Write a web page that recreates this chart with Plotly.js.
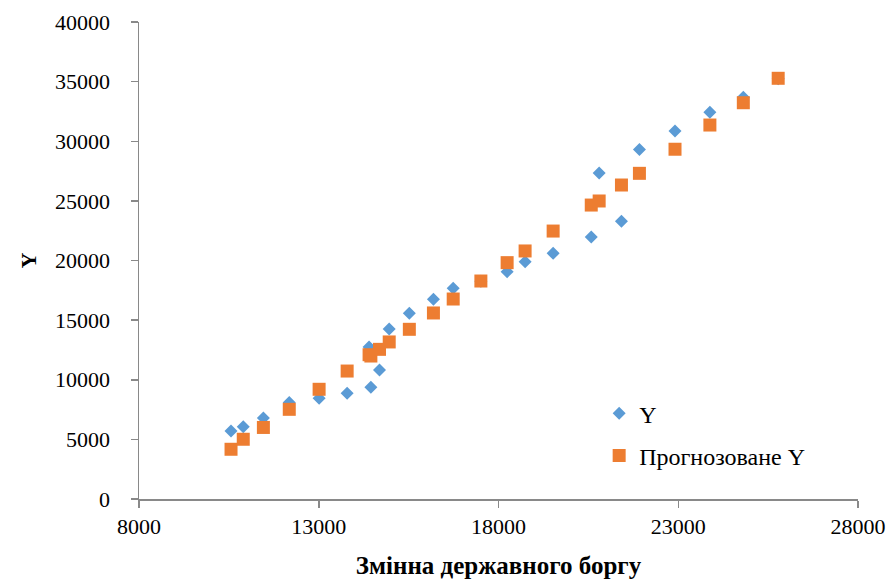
<!DOCTYPE html>
<html>
<head>
<meta charset="utf-8">
<script src="https://cdn.plot.ly/plotly-3.0.1.min.js"></script>
<style>html,body{margin:0;padding:0;background:#fff;}#chart{width:895px;height:585px;}</style>
</head>
<body>
<div id="chart"></div>
<script>
// Змінна державного боргу (x)
const debtX = [10560, 10900, 11460, 12180, 13010, 13790, 14400, 14450, 14690, 14960,
               15520, 16190, 16740, 17510, 18240, 18740, 19520, 20580, 20800, 21420,
               21920, 22910, 23880, 24810, 25780];
// Y (actual)
const actualY = [5700, 6060, 6800, 8100, 8450, 8860, 12750, 9370, 10820, 14250,
                 15570, 16750, 17670, 18250, 19060, 19900, 20600, 21970, 27340, 23290,
                 29310, 30860, 32430, 33700, 35250];
// Прогнозоване Y (predicted)
const predictedY = [4170, 5010, 6000, 7520, 9200, 10730, 12100, 11990, 12550, 13170,
                    14230, 15600, 16770, 18280, 19820, 20800, 22470, 24650, 24990, 26330,
                    27310, 29330, 31360, 33230, 35280];

const xTicks = [8000, 13000, 18000, 23000, 28000];
const yTicks = [0, 5000, 10000, 15000, 20000, 25000, 30000, 35000, 40000];

const serif = "'Liberation Serif', 'Times New Roman', serif";

const traces = [
  {
    x: debtX, y: actualY, name: 'Y', type: 'scatter', mode: 'markers',
    legendgroup: 'a',
    marker: {symbol: 'diamond', size: 10, color: '#5B9BD5'}
  },
  {
    x: debtX, y: predictedY, name: 'Прогнозоване Y', type: 'scatter', mode: 'markers',
    legendgroup: 'b',
    marker: {symbol: 'square', size: 13, color: '#ED7D31'}
  }
];

const axisCommon = {
  showgrid: false, zeroline: false, showline: true,
  linecolor: '#898989', linewidth: 1.5,
  ticks: 'outside', ticklen: 7, tickcolor: '#898989', tickwidth: 1.5,
  tickfont: {family: serif, size: 22, color: '#000'}
};

const layout = {
  width: 895, height: 585,
  margin: {l: 139, r: 37, t: 22, b: 86},
  paper_bgcolor: '#fff', plot_bgcolor: '#fff',
  showlegend: true,
  legend: {
    x: 0.64, y: 0.226, xanchor: 'left', yanchor: 'top',
    font: {family: serif, size: 24, color: '#000'},
    traceorder: 'grouped', tracegroupgap: 8,
    bgcolor: 'rgba(0,0,0,0)', itemwidth: 30
  },
  xaxis: Object.assign({}, axisCommon, {
    range: [8000, 28000], tickvals: xTicks, ticktext: xTicks.map(String),
    title: {text: '<b>Змінна державного боргу</b>', font: {family: serif, size: 25, color: '#000'}, standoff: 18}
  }),
  yaxis: Object.assign({}, axisCommon, {
    range: [0, 40000], tickvals: yTicks, ticktext: yTicks.map(String),
    ticklabelstandoff: 16,
    title: {text: '<b>Y</b>', font: {family: serif, size: 22, color: '#000'}, standoff: 12}
  })
};

Plotly.newPlot('chart', traces, layout, {displayModeBar: false, staticPlot: true});
</script>
</body>
</html>
